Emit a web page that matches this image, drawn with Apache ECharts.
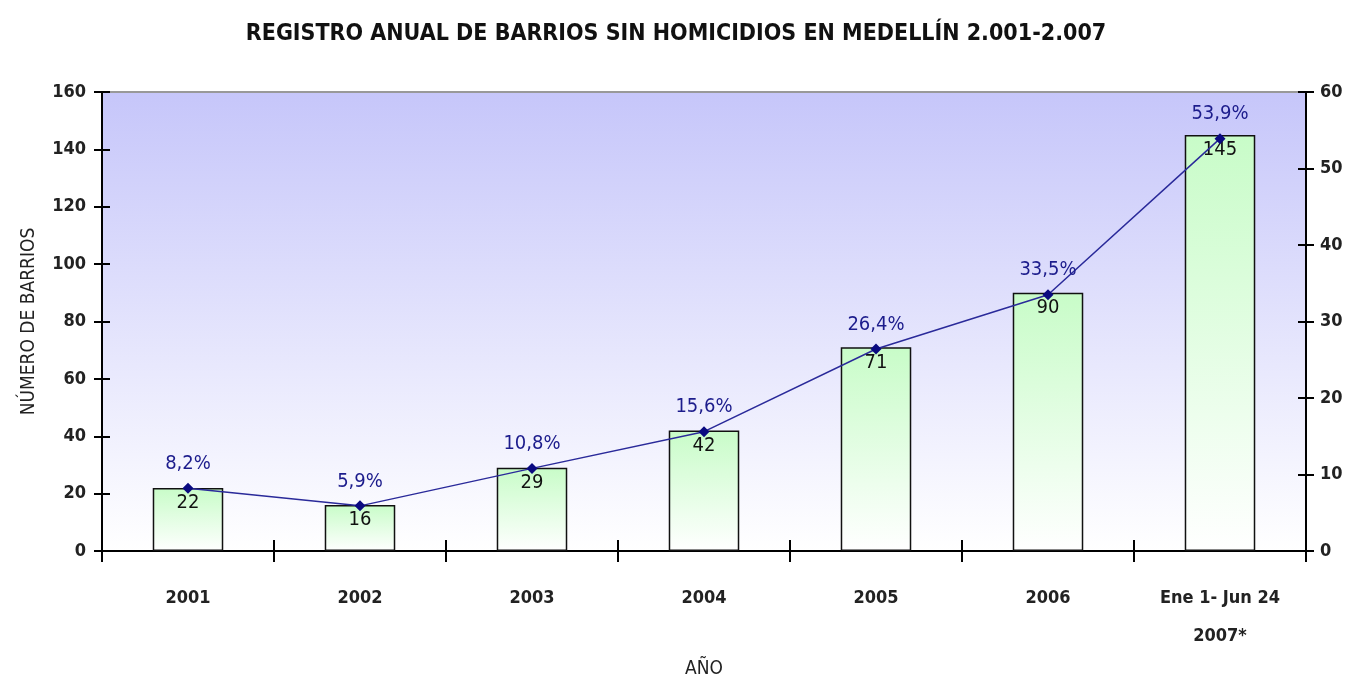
<!DOCTYPE html>
<html>
<head>
<meta charset="utf-8">
<script src="https://cdn.jsdelivr.net/npm/echarts@6/dist/echarts.min.js"></script>
<style>
  html, body { margin: 0; padding: 0; background: #fff; }
  #chart { width: 1352px; height: 682px; }
</style>
</head>
<body>
<div id="chart"></div>
<script>
// categorias (años)
const years = ['2001', '2002', '2003', '2004', '2005', '2006', 'Ene 1- Jun 24\n2007*'];
// numero de barrios sin homicidios
const barrios = [22, 16, 29, 42, 71, 90, 145];
// porcentaje de barrios
const porcentaje = [8.2, 5.9, 10.8, 15.6, 26.4, 33.5, 53.9];

const font = "'DejaVu Sans Condensed', 'Liberation Sans Narrow', 'Arial Narrow', sans-serif";

const chart = echarts.init(document.getElementById('chart'));

const tickLabel = { color: '#222', fontSize: 18, fontWeight: 'bold', fontFamily: font };
const axisLineBlack = { show: true, onZero: false, lineStyle: { color: '#000', width: 2 } };

const option = {
  animation: false,
  title: {
    text: 'REGISTRO ANUAL DE BARRIOS SIN HOMICIDIOS EN MEDELLÍN 2.001-2.007',
    left: 'center',
    top: 18,
    textStyle: { fontSize: 23, fontWeight: 'bold', color: '#111', fontFamily: font }
  },
  grid: {
    left: 102, right: 46, top: 92, bottom: 131,
    outerBoundsMode: 'none',
    show: true,
    borderWidth: 0,
    backgroundColor: new echarts.graphic.LinearGradient(0, 0, 0, 1, [
      { offset: 0, color: '#c6c6fa' },
      { offset: 1, color: '#ffffff' }
    ])
  },
  xAxis: [
    {
      type: 'category',
      data: years,
      position: 'bottom',
      axisLine: axisLineBlack,
      axisTick: { show: true, length: 11, lineStyle: { color: '#000', width: 2 } },
      axisLabel: Object.assign({ margin: 28, lineHeight: 38 }, tickLabel),
      name: 'AÑO',
      nameLocation: 'middle',
      nameGap: 104,
      nameTextStyle: { color: '#222', fontSize: 19, fontFamily: font }
    },
    {
      // ticks hacia adentro
      type: 'category',
      data: years,
      position: 'bottom',
      axisLine: { show: false, onZero: false },
      axisTick: { show: true, inside: true, length: 11, lineStyle: { color: '#000', width: 2 } },
      axisLabel: { show: false }
    },
    {
      // borde superior gris
      type: 'category',
      data: years,
      position: 'top',
      axisLine: { show: true, onZero: false, lineStyle: { color: '#999', width: 2 } },
      axisTick: { show: false },
      axisLabel: { show: false }
    }
  ],
  yAxis: [
    {
      type: 'value',
      min: 0, max: 160, interval: 20,
      position: 'left',
      splitLine: { show: false },
      axisLine: axisLineBlack,
      axisTick: { show: true, length: 8, lineStyle: { color: '#000', width: 2 } },
      axisLabel: Object.assign({ margin: 16 }, tickLabel),
      name: 'NÚMERO DE BARRIOS',
      nameLocation: 'middle',
      nameRotate: 90,
      nameGap: 63,
      nameTextStyle: { color: '#222', fontSize: 19, fontFamily: font }
    },
    {
      type: 'value',
      min: 0, max: 60, interval: 10,
      position: 'right',
      splitLine: { show: false },
      axisLine: axisLineBlack,
      axisTick: { show: true, length: 8, lineStyle: { color: '#000', width: 2 } },
      axisLabel: Object.assign({ margin: 14 }, tickLabel)
    },
    {
      type: 'value',
      min: 0, max: 160, interval: 20,
      position: 'left',
      splitLine: { show: false },
      axisLine: { show: false },
      axisTick: { show: true, inside: true, length: 8, lineStyle: { color: '#000', width: 2 } },
      axisLabel: { show: false }
    },
    {
      type: 'value',
      min: 0, max: 60, interval: 10,
      position: 'right',
      splitLine: { show: false },
      axisLine: { show: false },
      axisTick: { show: true, inside: true, length: 8, lineStyle: { color: '#000', width: 2 } },
      axisLabel: { show: false }
    }
  ],
  series: [
    {
      type: 'bar',
      data: barrios,
      yAxisIndex: 0,
      barWidth: '41%',
      itemStyle: {
        borderColor: '#111',
        borderWidth: 1.5,
        color: new echarts.graphic.LinearGradient(0, 0, 0, 1, [
          { offset: 0, color: '#c8fcc8' },
          { offset: 1, color: '#ffffff' }
        ])
      },
      label: {
        show: true,
        position: 'insideTop',
        distance: 5,
        color: '#111',
        fontSize: 20,
        fontFamily: font
      }
    },
    {
      type: 'line',
      data: porcentaje,
      yAxisIndex: 1,
      symbol: 'diamond',
      symbolSize: 11,
      itemStyle: { color: '#0a0a80' },
      lineStyle: { color: '#2a2a9a', width: 1.5 },
      label: {
        show: true,
        position: 'top',
        distance: 9,
        color: '#1c1c8c',
        fontSize: 20,
        fontFamily: font,
        formatter: (p) => p.value.toFixed(1).replace('.', ',') + '%'
      }
    }
  ]
};

chart.setOption(option);
</script>
</body>
</html>
